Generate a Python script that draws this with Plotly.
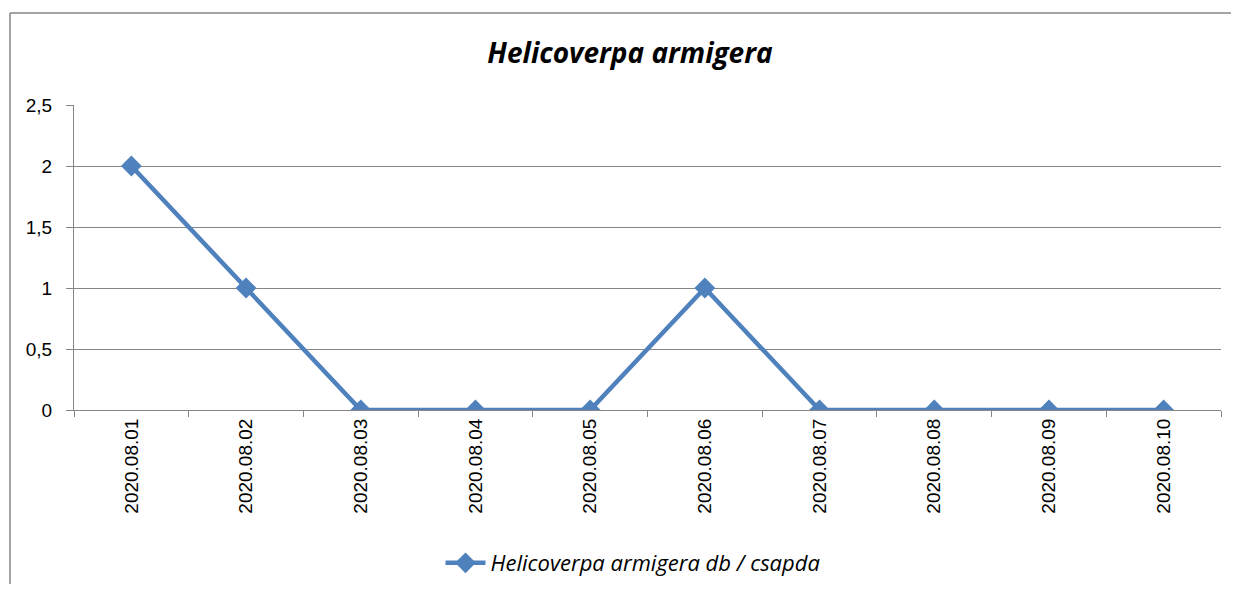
import plotly.graph_objects as go

dates = ["2020.08.01", "2020.08.02", "2020.08.03", "2020.08.04", "2020.08.05",
         "2020.08.06", "2020.08.07", "2020.08.08", "2020.08.09", "2020.08.10"]
counts = [2, 1, 0, 0, 0, 1, 0, 0, 0, 0]
series_name = "Helicoverpa armigera db / csapda"
title_text = "Helicoverpa armigera"

OFF = 8  # page body margin
W, H = 1239 - 2 * OFF, 592 - 2 * OFF
L = 74 - OFF
T = 105 - OFF
R = W - (1221 - OFF)
B = H - (410 - OFF)
pw, ph = W - L - R, H - T - B

def px_x(px):
    return (px - OFF - L) / pw

def px_y(py):
    return (H - B - (py - OFF)) / ph

fig = go.Figure()
fig.add_trace(go.Scatter(
    x=dates, y=counts, mode="lines+markers", name=series_name,
    line=dict(color="#4F81BD", width=4.5),
    marker=dict(symbol="diamond", size=16, color="#4F81BD"),
))

grid = "#868686"
fig.update_layout(
    width=W, height=H,
    margin=dict(l=L, r=R, t=T, b=B, autoexpand=False),
    paper_bgcolor="white", plot_bgcolor="white",
    separators=", ",
    showlegend=True,
    title=dict(text="<b><i>" + title_text + "</i></b>", x=(630 - OFF) / W,
               xanchor="center", y=1 - (53 - OFF) / H, yanchor="middle",
               font=dict(family="Open Sans", size=28, color="black")),
    legend=dict(orientation="h", x=px_x(633), xanchor="center",
                y=px_y(563), yanchor="middle",
                font=dict(family="Open Sans", size=22, color="black", style="italic"),
                itemwidth=40),
    xaxis=dict(type="category", range=[-0.5, 9.5], showline=True, linecolor=grid,
               linewidth=1, ticks="outside", tickson="boundaries", ticklen=6,
               tickcolor=grid, tickangle=-90, showgrid=False, automargin=False,
               tickfont=dict(family="Liberation Sans", size=19, color="black")),
    yaxis=dict(range=[0, 2.5], dtick=0.5, showline=True, linecolor=grid, linewidth=1,
               ticks="outside", ticklen=7, tickcolor=grid, showgrid=True,
               gridcolor=grid, gridwidth=1, zeroline=False, automargin=False,
               ticklabelstandoff=10,
               tickfont=dict(family="Liberation Sans", size=19, color="black")),
)

# chart frame: left and top edges
fig.add_shape(type="line", xref="paper", yref="paper",
              x0=px_x(10), x1=px_x(10), y0=px_y(13), y1=px_y(640),
              line=dict(color=grid, width=1.5), layer="below")
fig.add_shape(type="line", xref="paper", yref="paper",
              x0=px_x(10), x1=px_x(1300), y0=px_y(13), y1=px_y(13),
              line=dict(color=grid, width=1.5), layer="below")

fig.write_html("out.html")
